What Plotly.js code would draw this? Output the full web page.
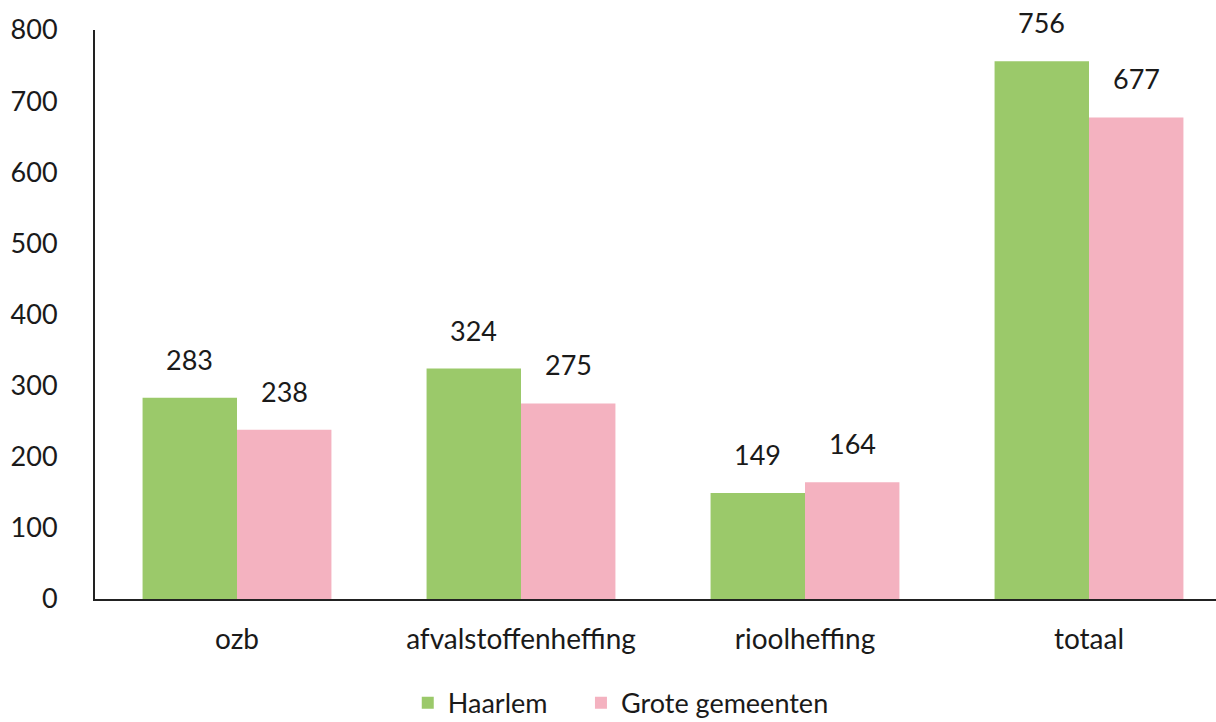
<!DOCTYPE html>
<html>
<head>
<meta charset="utf-8">
<script src="https://cdn.plot.ly/plotly-3.0.1.min.js"></script>
<style>html,body{margin:0;padding:0;background:#fff;}#chart{width:1216px;height:722px;}</style>
</head>
<body>
<div id="chart"></div>
<script>
var categories = ["ozb", "afvalstoffenheffing", "rioolheffing", "totaal"];
var haarlem = [283, 324, 149, 756];
var groteGemeenten = [238, 275, 164, 677];
var seriesNames = ["Haarlem", "Grote gemeenten"];
var yTicks = [0, 100, 200, 300, 400, 500, 600, 700, 800];

var FONT = "Lato, 'Open Sans', sans-serif";
var green = "#9BC96A", pink = "#F4B2C0";
var TXT = "#1a1a1a";

var traces = [
  {type: "bar", name: seriesNames[0], x: categories, y: haarlem, marker: {color: green}, hoverinfo: "none", legend: "legend"},
  {type: "bar", name: seriesNames[1], x: categories, y: groteGemeenten, marker: {color: pink}, hoverinfo: "none", legend: "legend2"}
];

var annotations = [];
var barGap = 0.335;
var half = (1 - barGap) / 4;
categories.forEach(function (c, i) {
  [haarlem, groteGemeenten].forEach(function (s, k) {
    annotations.push({
      xref: "x", yref: "y", x: i + (k === 0 ? -half : half), y: s[i],
      text: String(s[i]), showarrow: false, yanchor: "bottom", yshift: 20,
      font: {family: FONT, size: 27, color: TXT}
    });
  });
});

var legendBase = {
  orientation: "h", xanchor: "left", y: -0.183, yanchor: "middle",
  font: {family: FONT, size: 27, color: TXT}, itemwidth: 30, bgcolor: "rgba(0,0,0,0)"
};

var layout = {
  width: 1216, height: 722,
  margin: {l: 95, r: 0, t: 30, b: 123, autoexpand: false},
  paper_bgcolor: "#fff", plot_bgcolor: "#fff",
  barmode: "group", bargap: barGap, bargroupgap: 0,
  font: {family: FONT, size: 27, color: TXT},
  xaxis: {
    type: "category", range: [-0.5, 3.5 - 15 / 284],
    showline: true, linecolor: "#222", linewidth: 2,
    showgrid: false, zeroline: false, ticks: "", ticklabelstandoff: 14,
    tickfont: {family: FONT, size: 28, color: TXT}
  },
  yaxis: {
    range: [0, 800], tickvals: yTicks, ticktext: yTicks.map(String),
    showline: true, linecolor: "#222", linewidth: 2,
    showgrid: false, zeroline: false, ticks: "", ticklabelstandoff: 30,
    tickfont: {family: FONT, size: 27, color: TXT}
  },
  showlegend: true,
  legend: Object.assign({}, legendBase, {x: 0.279}),
  legend2: Object.assign({}, legendBase, {x: 0.4335}),
  annotations: annotations
};

Plotly.newPlot("chart", traces, layout, {displayModeBar: false, staticPlot: true});
</script>
</body>
</html>
